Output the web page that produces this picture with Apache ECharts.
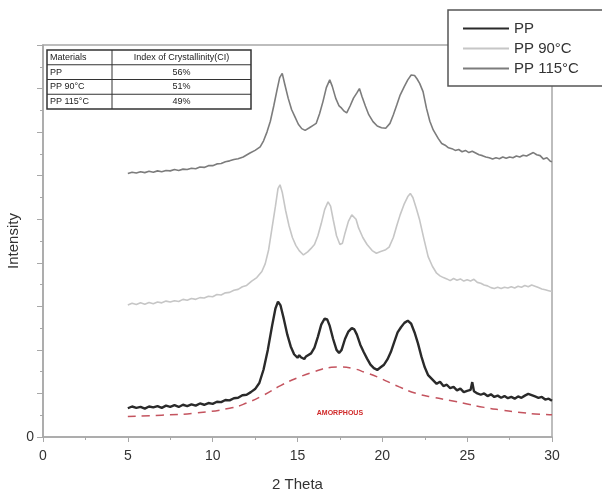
<!DOCTYPE html>
<html>
<head>
<meta charset="utf-8">
<script src="https://cdn.jsdelivr.net/npm/echarts@6/dist/echarts.min.js"></script>
<style>
  html, body { margin: 0; padding: 0; background: #fff; }
  #chart { width: 602px; height: 490px; }
</style>
</head>
<body>
<div id="chart"></div>
<script>
// XRD patterns, [2theta, intensity] (offset stacked)
const pp = [
  [5.0, 0.66], [5.25, 0.70], [5.5, 0.67], [5.75, 0.69], [6.0, 0.65], [6.25, 0.70], [6.5, 0.68],
  [6.75, 0.71], [7.0, 0.67], [7.25, 0.72], [7.5, 0.69], [7.75, 0.73], [8.0, 0.69], [8.25, 0.74],
  [8.5, 0.71], [8.75, 0.75], [9.0, 0.72], [9.25, 0.77], [9.5, 0.74], [9.75, 0.78], [10.0, 0.76],
  [10.25, 0.81], [10.5, 0.80], [10.75, 0.85], [11.0, 0.84], [11.25, 0.89], [11.5, 0.90],
  [11.75, 0.96], [12.0, 0.97], [12.25, 1.03], [12.5, 1.10], [12.75, 1.24], [13.0, 1.55],
  [13.25, 2.00], [13.5, 2.55], [13.7, 2.95], [13.85, 3.11], [14.0, 3.02], [14.2, 2.70],
  [14.4, 2.35], [14.6, 2.08], [14.8, 1.90], [15.0, 1.82], [15.1, 1.88], [15.2, 1.83],
  [15.3, 1.87], [15.4, 1.79], [15.5, 1.85], [15.6, 1.84], [15.8, 1.92], [16.0, 2.05],
  [16.2, 2.30], [16.4, 2.58], [16.6, 2.72], [16.75, 2.70], [16.9, 2.55], [17.1, 2.25],
  [17.3, 2.00], [17.45, 1.93], [17.6, 2.00], [17.8, 2.25], [18.0, 2.42], [18.2, 2.50],
  [18.35, 2.47], [18.5, 2.35], [18.7, 2.12], [18.9, 1.95], [19.1, 1.80], [19.3, 1.66],
  [19.5, 1.58], [19.7, 1.54], [19.9, 1.60], [20.1, 1.66], [20.3, 1.78], [20.5, 1.95],
  [20.7, 2.18], [20.9, 2.40], [21.1, 2.52], [21.3, 2.62], [21.5, 2.67], [21.7, 2.60],
  [21.9, 2.40], [22.1, 2.15], [22.3, 1.85], [22.5, 1.60], [22.7, 1.42], [23.0, 1.30],
  [23.2, 1.22], [23.4, 1.27], [23.6, 1.17], [23.8, 1.20], [24.0, 1.12], [24.2, 1.15],
  [24.4, 1.07], [24.6, 1.11], [24.8, 1.03], [25.0, 1.06], [25.2, 1.08], [25.3, 1.26],
  [25.4, 1.05], [25.6, 1.00], [25.8, 0.97], [26.0, 1.00], [26.2, 0.94], [26.4, 0.98],
  [26.6, 0.92], [26.8, 0.95], [27.0, 0.90], [27.2, 0.94], [27.4, 0.89], [27.6, 0.92],
  [27.8, 0.88], [28.0, 0.93], [28.2, 0.90], [28.4, 0.95], [28.6, 0.99], [28.8, 0.96],
  [29.0, 0.93], [29.2, 0.90], [29.4, 0.92], [29.6, 0.86], [29.8, 0.88], [30.0, 0.83]
]
const pp90 = [
  [5.0, 3.03], [5.25, 3.07], [5.5, 3.04], [5.75, 3.08], [6.0, 3.05], [6.25, 3.09], [6.5, 3.06],
  [6.75, 3.10], [7.0, 3.08], [7.25, 3.12], [7.5, 3.10], [7.75, 3.13], [8.0, 3.11], [8.25, 3.16],
  [8.5, 3.14], [8.75, 3.18], [9.0, 3.16], [9.25, 3.20], [9.5, 3.19], [9.75, 3.23], [10.0, 3.22],
  [10.25, 3.27], [10.5, 3.26], [10.75, 3.31], [11.0, 3.32], [11.25, 3.37], [11.5, 3.39],
  [11.75, 3.45], [12.0, 3.48], [12.3, 3.58], [12.6, 3.66], [12.9, 3.80], [13.1, 3.98],
  [13.3, 4.30], [13.5, 4.80], [13.7, 5.30], [13.85, 5.70], [13.97, 5.79], [14.1, 5.62],
  [14.3, 5.20], [14.5, 4.85], [14.7, 4.58], [14.9, 4.40], [15.1, 4.28], [15.35, 4.18],
  [15.6, 4.25], [15.8, 4.33], [16.0, 4.42], [16.2, 4.62], [16.4, 4.90], [16.6, 5.22],
  [16.8, 5.40], [16.95, 5.30], [17.1, 5.00], [17.3, 4.62], [17.5, 4.42], [17.65, 4.45],
  [17.8, 4.68], [18.0, 4.95], [18.2, 5.10], [18.3, 5.14], [18.45, 5.00], [18.6, 4.80],
  [18.85, 4.58], [19.1, 4.42], [19.4, 4.28], [19.65, 4.22], [19.9, 4.26], [20.2, 4.30],
  [20.4, 4.36], [20.65, 4.58], [20.85, 4.85], [21.05, 5.10], [21.3, 5.36], [21.5, 5.52],
  [21.65, 5.59], [21.8, 5.50], [22.0, 5.25], [22.2, 4.98], [22.45, 4.55], [22.7, 4.14],
  [22.95, 3.92], [23.2, 3.76], [23.4, 3.70], [23.6, 3.66], [23.8, 3.63], [24.0, 3.59],
  [24.2, 3.64], [24.4, 3.60], [24.6, 3.63], [24.8, 3.58], [25.0, 3.61], [25.2, 3.58],
  [25.4, 3.62], [25.6, 3.55], [25.8, 3.53], [26.0, 3.49], [26.2, 3.47], [26.4, 3.43],
  [26.6, 3.41], [26.8, 3.44], [27.0, 3.41], [27.2, 3.44], [27.4, 3.42], [27.6, 3.45],
  [27.8, 3.42], [28.0, 3.46], [28.2, 3.44], [28.4, 3.48], [28.6, 3.45], [28.8, 3.49],
  [29.0, 3.46], [29.2, 3.43], [29.4, 3.40], [29.6, 3.38], [29.8, 3.36], [30.0, 3.34]
]
const pp115 = [
  [5.0, 6.05], [5.25, 6.08], [5.5, 6.06], [5.75, 6.09], [6.0, 6.07], [6.25, 6.10], [6.5, 6.08],
  [6.75, 6.11], [7.0, 6.09], [7.25, 6.12], [7.5, 6.11], [7.75, 6.14], [8.0, 6.12], [8.25, 6.15],
  [8.5, 6.14], [8.75, 6.17], [9.0, 6.16], [9.25, 6.20], [9.5, 6.19], [9.75, 6.23], [10.0, 6.23],
  [10.25, 6.27], [10.5, 6.28], [10.75, 6.32], [11.0, 6.34], [11.25, 6.37], [11.5, 6.39],
  [11.8, 6.43], [12.2, 6.52], [12.5, 6.58], [12.8, 6.66], [13.0, 6.80], [13.2, 7.00],
  [13.4, 7.25], [13.6, 7.60], [13.8, 7.98], [13.95, 8.25], [14.1, 8.35], [14.25, 8.10],
  [14.45, 7.78], [14.65, 7.52], [14.85, 7.35], [15.05, 7.18], [15.25, 7.08], [15.45, 7.04],
  [15.7, 7.10], [15.9, 7.15], [16.1, 7.20], [16.3, 7.42], [16.5, 7.70], [16.7, 8.02],
  [16.9, 8.20], [17.05, 8.05], [17.25, 7.78], [17.45, 7.60], [17.6, 7.55], [17.75, 7.48],
  [17.9, 7.44], [18.1, 7.60], [18.3, 7.78], [18.5, 7.90], [18.65, 8.00], [18.8, 7.82],
  [19.0, 7.60], [19.2, 7.40], [19.45, 7.24], [19.7, 7.14], [19.95, 7.10], [20.2, 7.09],
  [20.45, 7.20], [20.65, 7.40], [20.85, 7.62], [21.05, 7.85], [21.3, 8.05], [21.5, 8.20],
  [21.7, 8.31], [21.9, 8.30], [22.05, 8.22], [22.2, 8.12], [22.4, 7.93], [22.6, 7.55],
  [22.8, 7.25], [23.0, 7.05], [23.3, 6.85], [23.5, 6.74], [23.7, 6.70], [23.9, 6.64],
  [24.1, 6.62], [24.3, 6.58], [24.5, 6.60], [24.7, 6.55], [24.9, 6.58], [25.1, 6.53],
  [25.3, 6.56], [25.5, 6.52], [25.7, 6.48], [25.9, 6.46], [26.1, 6.43], [26.3, 6.41],
  [26.5, 6.38], [26.7, 6.41], [26.9, 6.39], [27.1, 6.43], [27.3, 6.40], [27.5, 6.43],
  [27.7, 6.41], [27.9, 6.45], [28.1, 6.43], [28.3, 6.47], [28.5, 6.45], [28.7, 6.49],
  [28.9, 6.53], [29.1, 6.48], [29.3, 6.46], [29.5, 6.38], [29.7, 6.41], [29.9, 6.33],
  [30.0, 6.32]
]
// fitted amorphous halo under PP
const amorphous = [
  [5, 0.47], [7, 0.50], [9, 0.55], [11, 0.66], [12, 0.78], [13, 0.96], [14, 1.18], [15, 1.36],
  [16, 1.50], [17, 1.60], [17.5, 1.61], [18.3, 1.57], [19, 1.48], [19.7, 1.38], [21, 1.15],
  [22, 1.00], [23, 0.91], [24, 0.84], [25, 0.76], [26, 0.68], [27, 0.62], [28, 0.57],
  [29, 0.53], [30, 0.51]
]
const tableHead = ['Materials', 'Index of Crystallinity(CI)']
const tableRows = [['PP', '56%'], ['PP 90°C', '51%'], ['PP 115°C', '49%']]

const font = 'Liberation Sans'
const chart = echarts.init(document.getElementById('chart'))

// little crystallinity table in the top-left corner
const tbl = { x: 47, y: 50, w: 204, rowH: 14.75, col: 65 }
const tblEls = [{
  type: 'rect',
  shape: { x: tbl.x, y: tbl.y, width: tbl.w, height: tbl.rowH * 4 },
  style: { fill: '#fff', stroke: '#333', lineWidth: 1.5 }
}, {
  type: 'line',
  shape: { x1: tbl.x + tbl.col, y1: tbl.y, x2: tbl.x + tbl.col, y2: tbl.y + tbl.rowH * 4 },
  style: { stroke: '#333', lineWidth: 1 }
}]
const allRows = [tableHead].concat(tableRows)
allRows.forEach((r, i) => {
  const cy = tbl.y + tbl.rowH * (i + 0.5)
  if (i > 0) {
    tblEls.push({
      type: 'line',
      shape: { x1: tbl.x, y1: tbl.y + tbl.rowH * i, x2: tbl.x + tbl.w, y2: tbl.y + tbl.rowH * i },
      style: { stroke: '#333', lineWidth: 1 }
    })
  }
  tblEls.push({
    type: 'text', x: tbl.x + 3, y: cy,
    style: { text: r[0], fill: '#222', font: '9px ' + font, textVerticalAlign: 'middle' }
  })
  tblEls.push({
    type: 'text', x: tbl.x + tbl.col + (tbl.w - tbl.col) / 2, y: cy,
    style: { text: r[1], fill: '#222', font: '9px ' + font, textAlign: 'center', textVerticalAlign: 'middle' }
  })
})

chart.setOption({
  backgroundColor: '#fff',
  textStyle: { fontFamily: font },
  animation: false,
  grid: {
    left: 43, right: 50, top: 45, bottom: 53,
    outerBoundsMode: 'none',
    show: true, borderColor: '#a8a8a8', borderWidth: 1.5
  },
  legend: {
    orient: 'vertical',
    left: 448, top: 10,
    padding: [10, 40, 9, 15],
    icon: 'rect',
    itemWidth: 46, itemHeight: 2, itemGap: 3,
    backgroundColor: '#fff',
    borderColor: '#555', borderWidth: 1.5,
    textStyle: { fontSize: 15, lineHeight: 17, color: '#333', fontFamily: font },
    data: ['PP', 'PP 90°C', 'PP 115°C']
  },
  xAxis: {
    type: 'value',
    min: 0, max: 30, interval: 5,
    name: '2 Theta', nameLocation: 'middle', nameGap: 40,
    nameMoveOverlap: false,
    nameTextStyle: { fontSize: 15, color: '#333' },
    axisLine: { lineStyle: { color: '#a8a8a8', width: 1.5 } },
    axisTick: { length: 5, lineStyle: { color: '#a8a8a8' } },
    minorTick: { show: true, splitNumber: 2, length: 3, lineStyle: { color: '#a8a8a8' } },
    axisLabel: { fontSize: 14, color: '#333', margin: 12 },
    splitLine: { show: false }
  },
  yAxis: {
    type: 'value',
    min: 0, max: 9, interval: 1,
    name: 'Intensity', nameLocation: 'middle', nameGap: 22,
    nameMoveOverlap: false,
    nameTextStyle: { fontSize: 15, color: '#333' },
    axisLine: { show: true, lineStyle: { color: '#a8a8a8', width: 1.5 } },
    axisTick: { show: true, length: 6, lineStyle: { color: '#a8a8a8' } },
    minorTick: { show: true, splitNumber: 2, length: 3, lineStyle: { color: '#a8a8a8' } },
    axisLabel: {
      fontSize: 14, color: '#333', margin: 9,
      formatter: v => (v === 0 ? '0' : '')
    },
    splitLine: { show: false }
  },
  graphic: tblEls,
  series: [{
    name: 'Amorphous',
    type: 'line',
    data: amorphous,
    smooth: true,
    symbol: 'none',
    lineStyle: { color: '#c4545f', width: 1.5, type: [8, 6] },
    markPoint: {
      symbol: 'circle', symbolSize: 0,
      label: {
        show: true, formatter: 'AMORPHOUS',
        color: '#d02a2a', fontSize: 7, fontWeight: 'bold'
      },
      data: [{ coord: [17.5, 0.55] }]
    },
    z: 1
  }, {
    name: 'PP',
    type: 'line',
    data: pp,
    symbol: 'none',
    itemStyle: { color: '#2a2a2a' },
    lineStyle: { color: '#2a2a2a', width: 2.4 },
    z: 3
  }, {
    name: 'PP 90°C',
    type: 'line',
    data: pp90,
    symbol: 'none',
    itemStyle: { color: '#c6c6c6' },
    lineStyle: { color: '#c6c6c6', width: 1.6 },
    z: 2
  }, {
    name: 'PP 115°C',
    type: 'line',
    data: pp115,
    symbol: 'none',
    itemStyle: { color: '#7c7c7c' },
    lineStyle: { color: '#7c7c7c', width: 1.6 },
    z: 2
  }]
})
</script>
</body>
</html>
